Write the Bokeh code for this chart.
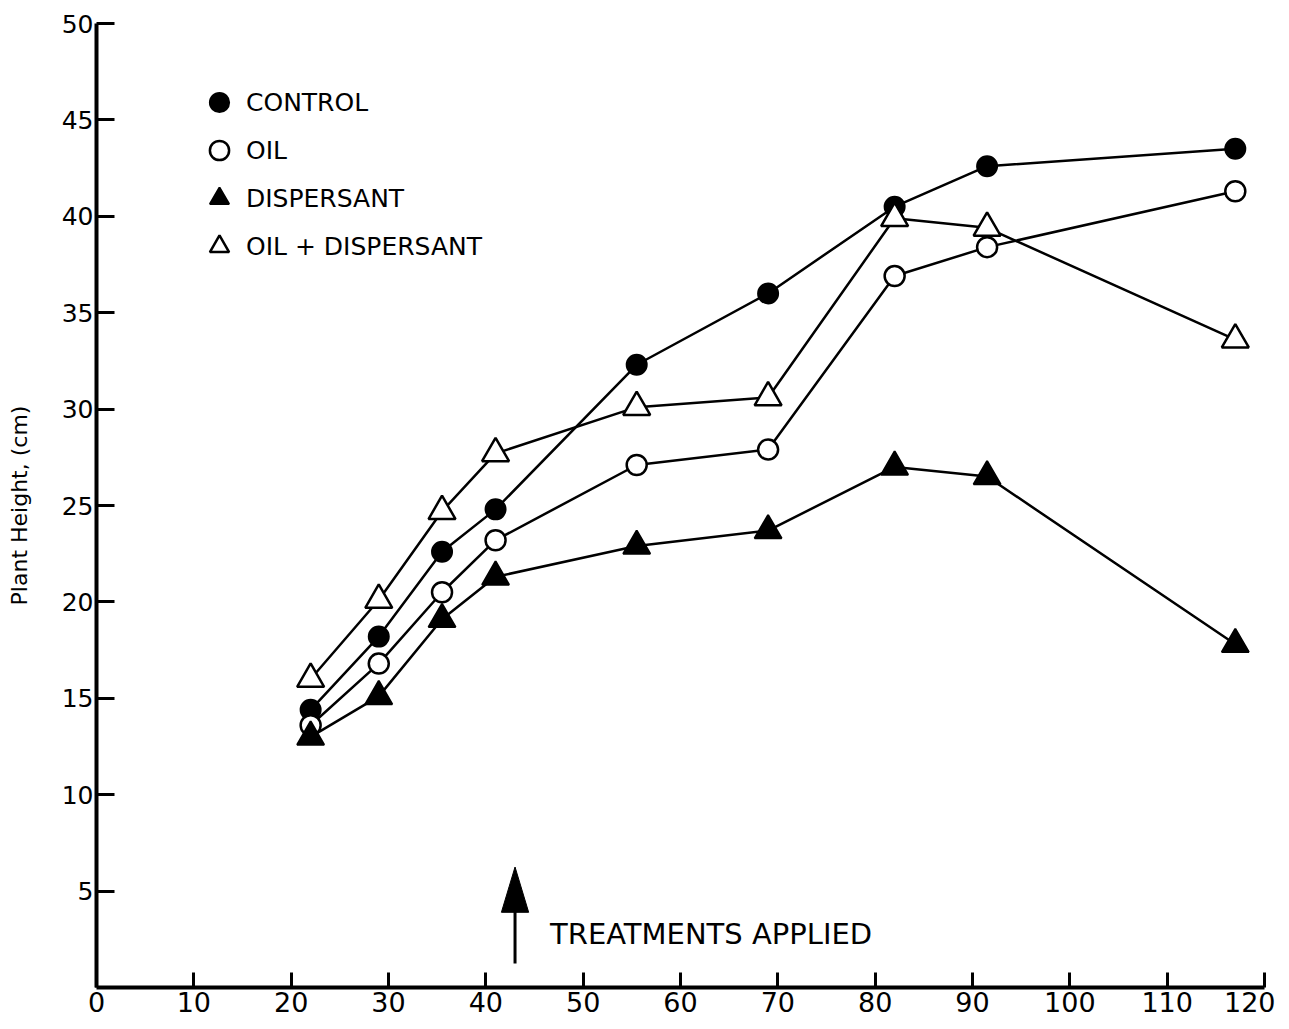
from bokeh.plotting import figure
from bokeh.models import Legend, LegendItem, FixedTicker
from bokeh.core.properties import value
from bokeh.embed import file_html
from bokeh.resources import INLINE

# ---- data ----
days = [22, 29, 35.5, 41, 55.5, 69, 82, 91.5, 117]
control = [14.4, 18.2, 22.6, 24.8, 32.3, 36.0, 40.5, 42.6, 43.5]
oil = [13.6, 16.8, 20.5, 23.2, 27.1, 27.9, 36.9, 38.4, 41.3]
dispersant = [13.0, 15.1, 19.1, 21.3, 22.9, 23.7, 27.0, 26.5, 17.8]
oil_dispersant = [16.0, 20.1, 24.7, 27.7, 30.1, 30.6, 39.9, 39.4, 33.6]
series_names = ["CONTROL", "OIL", "DISPERSANT", "OIL + DISPERSANT"]
x_ticks = [0, 10, 20, 30, 40, 50, 60, 70, 80, 90, 100, 110, 120]
y_ticks = [5, 10, 15, 20, 25, 30, 35, 40, 45, 50]
treatment_day = 43
annotation_text = "TREATMENTS APPLIED"

FONT = "DejaVu Sans"

p = figure(width=1275, height=1023, output_backend="svg", toolbar_location=None,
           x_range=(0, 120), y_range=(0, 50),
           min_border_left=96, min_border_right=11, min_border_top=23, min_border_bottom=36)
p.outline_line_color = None
p.xgrid.grid_line_color = None
p.ygrid.grid_line_color = None
p.background_fill_color = "white"

for ax in (p.xaxis[0], p.yaxis[0]):
    ax.axis_line_width = 4
    ax.axis_line_color = "black"
    ax.major_tick_line_width = 3
    ax.major_tick_line_color = "black"
    ax.major_tick_out = 0
    ax.minor_tick_line_color = None
    ax.major_label_text_font = FONT
    ax.major_label_text_color = "black"

p.xaxis.ticker = FixedTicker(ticks=x_ticks)
p.yaxis.ticker = FixedTicker(ticks=y_ticks)
p.xaxis.major_tick_in = 15
p.yaxis.major_tick_in = 18
p.xaxis.major_label_text_font_size = "27px"
p.yaxis.major_label_text_font_size = "25px"
p.xaxis.major_label_standoff = 4
p.yaxis.major_label_standoff = 3
p.yaxis.axis_label = "Plant Height, (cm)"
p.yaxis.axis_label_text_font = FONT
p.yaxis.axis_label_text_font_size = "22px"
p.yaxis.axis_label_text_font_style = "normal"
p.yaxis.axis_label_text_color = "black"
p.yaxis.axis_label_standoff = 27

# lines
for ys in (control, oil, dispersant, oil_dispersant):
    p.line(days, ys, line_color="black", line_width=2.5)

# markers
r_c = p.scatter(days, control, marker="circle", size=20, fill_color="black",
                line_color="black", line_width=2)
r_o = p.scatter(days, oil, marker="circle", size=20, fill_color="white",
                line_color="black", line_width=2.5)
r_d = p.scatter(days, dispersant, marker="triangle", size=27, fill_color="black",
                line_color="black", line_width=2)
r_od = p.scatter(days, oil_dispersant, marker="triangle", size=27, fill_color="white",
                 line_color="black", line_width=2.5)

legend = Legend(items=[LegendItem(label=n, renderers=[r]) for n, r in
                       zip(series_names, [r_c, r_o, r_d, r_od])],
                location=(99, 717), orientation="vertical")
legend.border_line_color = None
legend.background_fill_alpha = 0
legend.padding = 0
legend.margin = 0
legend.spacing = 0
legend.glyph_height = 48
legend.glyph_width = 48
legend.label_standoff = 3
legend.label_text_font = FONT
legend.label_text_font_size = "25px"
legend.label_text_color = "black"
p.add_layout(legend)

# treatment arrow
p.segment(x0=[treatment_day], y0=[1.25], x1=[treatment_day], y1=[4.2],
          line_color="black", line_width=3)
p.patch(x=[treatment_day - 1.4, treatment_day, treatment_day + 1.4],
        y=[3.9, 6.25, 3.9], fill_color="black", line_color="black", line_width=1)
p.text(x=[46.6], y=[2.75], text=[annotation_text], text_font=value(FONT),
       text_font_size="29px", text_align="left", text_baseline="middle",
       text_color="black")

open("out.html", "w").write(file_html(p, INLINE))
